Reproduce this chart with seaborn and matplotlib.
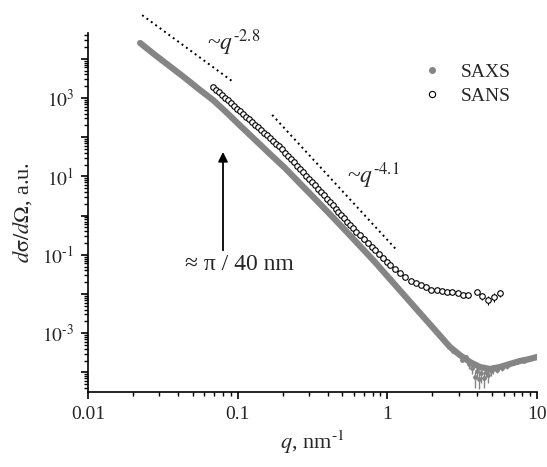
import numpy as np
import pandas as pd
import matplotlib
matplotlib.use("Agg")
import matplotlib.pyplot as plt
import seaborn as sns
from matplotlib import ticker
from matplotlib.lines import Line2D

# ---------------- data ----------------
saxs_q = [0.0223, 0.0280, 0.0353, 0.0445, 0.0560, 0.0684, 0.0823, 0.1036, 0.1305,
          0.1644, 0.207, 0.261, 0.328, 0.414, 0.521, 0.656, 0.826, 1.04, 1.31,
          1.65, 2.08, 2.62, 3.05, 3.56, 4.16, 4.85, 5.65, 6.59, 7.69, 8.97, 10.0]
saxs_i = [2.53e4, 1.26e4, 6.4e3, 3.24e3, 1.6e3, 890, 466, 199, 86.3,
          37.2, 16.4, 6.6, 2.7, 1.08, 0.429, 0.168, 0.0655, 0.0241, 0.00889,
          0.00328, 1.21e-3, 4.45e-4, 2.78e-4, 1.84e-4, 1.37e-4, 1.22e-4, 1.37e-4,
          1.64e-4, 1.95e-4, 2.20e-4, 2.47e-4]

# noisy SAXS points at high q (with error bars)
saxs_tail_q = [2.75, 2.95, 3.15, 3.35, 3.5, 3.7, 3.85, 3.95, 4.1, 4.25, 4.4,
               4.55, 4.7, 4.9, 5.1, 5.4, 5.8, 6.3, 6.9, 7.4, 8.2, 9.0]
saxs_tail_i = [3.6e-4, 3.0e-4, 2.1e-4, 2.4e-4, 1.6e-4, 1.3e-4, 7.5e-5, 1.1e-4,
               6.8e-5, 9.5e-5, 7.0e-5, 1.05e-4, 8.5e-5, 1.1e-4, 1.2e-4, 1.15e-4,
               1.3e-4, 1.45e-4, 1.7e-4, 1.85e-4, 2.0e-4, 2.3e-4]
saxs_tail_err = [3e-5, 3e-5, 3e-5, 3e-5, 4e-5, 4e-5, 3.5e-5, 4e-5, 3e-5, 4e-5,
                 3e-5, 3e-5, 3e-5, 3e-5, 3e-5, 2e-5, 2e-5, 2e-5, 2e-5, 2e-5,
                 2e-5, 2e-5]

sans_q = [0.0684, 0.0716, 0.0750, 0.0785, 0.0822, 0.0861, 0.0901, 0.0944, 0.0988,
          0.1035, 0.1083, 0.1134, 0.1188, 0.1244, 0.1302, 0.1363, 0.1428, 0.1495,
          0.1565, 0.1639, 0.1716, 0.1797, 0.1881,
          0.1970, 0.2062, 0.2159, 0.2261, 0.2367, 0.2478, 0.2595, 0.2717, 0.2845,
          0.2978, 0.3119, 0.3265, 0.3419, 0.3580, 0.3748, 0.3924, 0.4109, 0.4302,
          0.4505, 0.4716, 0.4938, 0.5171, 0.5414, 0.5669, 0.5935, 0.6214,
          0.661, 0.700, 0.741, 0.785, 0.832, 0.881, 0.933, 0.989, 1.047,
          1.122, 1.216, 1.318, 1.429, 1.549, 1.679, 1.820, 1.972, 2.138, 2.317,
          2.512, 2.723, 2.951, 3.199, 3.467, 3.97, 4.29, 4.70, 5.15, 5.65]
sans_i = [1910, 1630, 1392, 1188, 1014, 866, 739, 631, 539,
          460, 392, 335, 286, 244, 208, 178, 152, 130,
          111, 94.5, 80.7, 68.9, 58.8,
          49.2, 40.5, 33.4, 27.5, 22.7, 18.7, 15.4, 12.7, 10.5,
          8.63, 7.11, 5.86, 4.83, 3.98, 3.28, 2.70, 2.23, 1.83,
          1.51, 1.25, 1.03, 0.847, 0.698, 0.575, 0.474, 0.390,
          0.312, 0.250, 0.201, 0.161, 0.129, 0.104, 0.0832, 0.0667, 0.0535,
          0.0443, 0.0352, 0.0279, 0.0215, 0.0195, 0.0165, 0.0148, 0.0128, 0.0126,
          0.0118, 0.0112, 0.0110, 0.0108, 0.0096, 0.0096, 0.0112, 0.0089, 0.0070,
          0.0084, 0.0106]
sans_err_q = [4.29, 4.70, 5.15, 5.65]
sans_err_i = [0.0089, 0.0070, 0.0084, 0.0106]
sans_err = [0.0020, 0.0018, 0.0020, 0.0024]

# power-law guide lines
guide1_q = [0.023, 0.093]
guide1_i = [1.3e5, 2.6e3]
guide2_q = [0.17, 1.16]
guide2_i = [370, 0.13]

HY = "\u2010"  # short hyphen used in the superscripts

# ---------------- style ----------------
sns.set_style("ticks")
plt.rcParams['font.family'] = ['Liberation Serif', 'DejaVu Serif']
plt.rcParams['mathtext.fontset'] = 'stix'
plt.rcParams['font.size'] = 14

GREY = "#858585"

fig = plt.figure(figsize=(5.47, 4.67), dpi=100)
ax = fig.add_axes([88 / 547, 75 / 467, 449 / 547, 359 / 467])
ax.set_xscale("log")
ax.set_yscale("log")

saxs = pd.DataFrame({"q": saxs_q, "I": saxs_i})
tail = pd.DataFrame({"q": saxs_tail_q, "I": saxs_tail_i})
sans = pd.DataFrame({"q": sans_q, "I": sans_i})

ax.errorbar(saxs_tail_q, saxs_tail_i, yerr=saxs_tail_err, fmt="none",
            ecolor=GREY, elinewidth=1.0, capsize=0, zorder=1)
sns.lineplot(data=saxs, x="q", y="I", color=GREY, lw=4.5, sort=False,
             estimator=None, ax=ax, zorder=2)
sns.scatterplot(data=tail, x="q", y="I", color=GREY, s=12, linewidth=0,
                ax=ax, zorder=2)

ax.errorbar(sans_err_q, sans_err_i, yerr=sans_err, fmt="none",
            ecolor="black", elinewidth=0.8, capsize=0, zorder=3)
sns.scatterplot(data=sans, x="q", y="I", marker="o", s=16, facecolor="white",
                edgecolor="black", linewidth=0.8, ax=ax, zorder=4)

# dotted guides
for gq, gi in [(guide1_q, guide1_i), (guide2_q, guide2_i)]:
    ax.plot(gq, gi, color="black", lw=1.4, linestyle=(0, (1, 1.8)), clip_on=False)

ax.text(0.0624, 1.68e4, "~$q^{" + HY + "2.8}$", fontsize=17, ha="left", va="baseline")
ax.text(0.537, 6.8, "~$q^{" + HY + "4.1}$", fontsize=17, ha="left", va="baseline")

ax.annotate("", xy=(0.0798, 42), xytext=(0.0798, 0.13),
            arrowprops=dict(arrowstyle="-|>", color="black", lw=1.3,
                            mutation_scale=14, shrinkA=0, shrinkB=0))
ax.text(0.102, 0.055, "≈ π / 40 nm", fontsize=17, ha="center", va="center")

# axes
ax.set_xlim(0.01, 10)
ax.set_ylim(3.16e-5, 4.55e4)
sns.despine(ax=ax)
for s in ["left", "bottom"]:
    ax.spines[s].set_linewidth(1.2)
    ax.spines[s].set_color("black")

ax.xaxis.set_major_locator(ticker.LogLocator(base=10, numticks=10))
ax.xaxis.set_minor_locator(ticker.LogLocator(base=10, subs=np.arange(2, 10), numticks=10))
ax.xaxis.set_major_formatter(ticker.FuncFormatter(lambda v, p: f"{v:g}"))
ax.yaxis.set_major_locator(ticker.LogLocator(base=10, numticks=20))
ax.yaxis.set_minor_locator(ticker.LogLocator(base=10, subs=np.arange(2, 10), numticks=20))


def yfmt(v, p):
    e = int(round(np.log10(v)))
    if e % 2 == 0:
        return ""
    ex = (HY + str(-e)) if e < 0 else str(e)
    return "$10^{" + ex + "}$"


ax.yaxis.set_major_formatter(ticker.FuncFormatter(yfmt))
ax.xaxis.set_minor_formatter(ticker.NullFormatter())
ax.yaxis.set_minor_formatter(ticker.NullFormatter())
ax.tick_params(which="major", direction="out", length=5, width=1.2, labelsize=14,
               color="black", pad=5)
ax.tick_params(which="minor", direction="out", length=3, width=1.0, color="black")

ax.set_xlabel("$q$, nm$^{" + HY + "1}$", fontsize=16, labelpad=4)
ax.set_ylabel(r"$d\mathrm{\sigma}/d\Omega$, a.u.", fontsize=16, labelpad=6)

handles = [Line2D([], [], ls="none", marker="o", ms=4, color=GREY),
           Line2D([], [], ls="none", marker="o", ms=4.5, mfc="white",
                  mec="black", mew=0.8)]
ax.legend(handles, ["SAXS", "SANS"], loc="upper left", frameon=False,
          bbox_to_anchor=(0.695, 0.965), fontsize=14, handletextpad=0.7,
          labelspacing=0.35, handlelength=1.5)

fig.savefig("out.png", dpi=100)
